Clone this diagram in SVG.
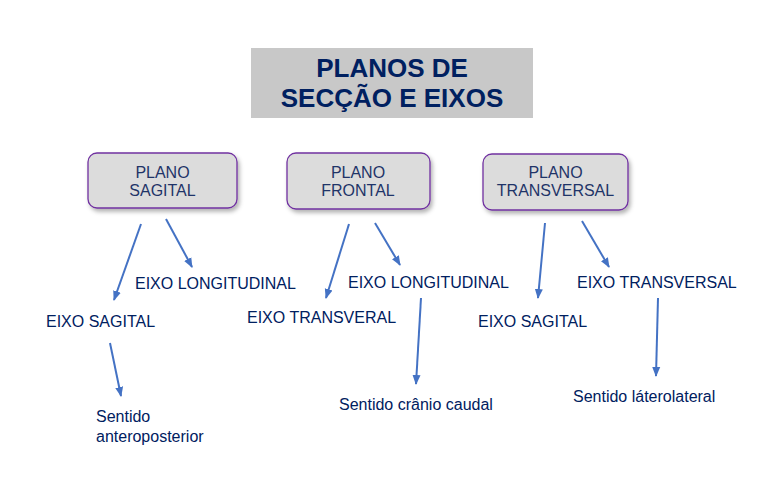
<svg xmlns="http://www.w3.org/2000/svg" width="784" height="486" viewBox="0 0 784 486">
<defs>
<filter id="sh" x="-10%" y="-10%" width="130%" height="140%">
<feDropShadow dx="2" dy="3" stdDeviation="2" flood-color="#000" flood-opacity="0.3"/>
</filter>
<marker id="ah" markerUnits="userSpaceOnUse" markerWidth="10" markerHeight="10" viewBox="0 0 10 10" refX="9" refY="5" orient="auto">
<path d="M0,1 L10,5 L0,9 Z" fill="#4472c4"/>
</marker>
<style>
text{font-family:"Liberation Sans",Arial,sans-serif;fill:#002060;}
.t{font-size:26px;font-weight:bold;text-anchor:middle;}
.n{font-size:16px;text-anchor:middle;fill:#1f3468;}
.l{font-size:16px;}
.node rect{fill:#dcdcdc;stroke:#7030a0;stroke-width:1.3;}
.c line{stroke:#4472c4;stroke-width:2;marker-end:url(#ah);}
</style>
</defs>
<rect width="784" height="486" fill="#fff"/>
<g id="title">
<rect x="251" y="48" width="282" height="70" fill="#c8c8c8"/>
<text class="t" x="392" y="77">PLANOS DE</text>
<text class="t" x="392" y="107">SECÇÃO E EIXOS</text>
</g>
<g id="plano-sagital" class="node">
<rect x="88" y="153" width="149" height="55" rx="9" filter="url(#sh)"/>
<text class="n" x="162.5" y="178">PLANO</text>
<text class="n" x="162.5" y="196">SAGITAL</text>
</g>
<g id="plano-frontal" class="node">
<rect x="287" y="153" width="143" height="56" rx="9" filter="url(#sh)"/>
<text class="n" x="358" y="178">PLANO</text>
<text class="n" x="358" y="196">FRONTAL</text>
</g>
<g id="plano-transversal" class="node">
<rect x="483" y="154" width="145" height="56" rx="9" filter="url(#sh)"/>
<text class="n" x="555.5" y="178">PLANO</text>
<text class="n" x="555.5" y="196">TRANSVERSAL</text>
</g>
<g id="labels">
<text class="l" x="135" y="289">EIXO LONGITUDINAL</text>
<text class="l" x="46" y="327">EIXO SAGITAL</text>
<text class="l" x="96" y="422">Sentido</text>
<text class="l" x="96" y="442">anteroposterior</text>
<text class="l" x="348" y="288">EIXO LONGITUDINAL</text>
<text class="l" x="247" y="323">EIXO TRANSVERAL</text>
<text class="l" x="339" y="410">Sentido crânio caudal</text>
<text class="l" x="577" y="288">EIXO TRANSVERSAL</text>
<text class="l" x="478" y="327">EIXO SAGITAL</text>
<text class="l" x="573" y="402">Sentido láterolateral</text>
</g>
<g id="connectors" class="c">
<line x1="141" y1="224" x2="114" y2="300"/>
<line x1="166" y1="219" x2="192" y2="267"/>
<line x1="110" y1="343" x2="121" y2="396"/>
<line x1="349" y1="224" x2="326" y2="298"/>
<line x1="375" y1="223" x2="400" y2="265"/>
<line x1="421" y1="298" x2="416" y2="384"/>
<line x1="545" y1="223" x2="538" y2="298"/>
<line x1="582" y1="221" x2="609" y2="267"/>
<line x1="658" y1="298" x2="656" y2="376"/>
</g>
</svg>
